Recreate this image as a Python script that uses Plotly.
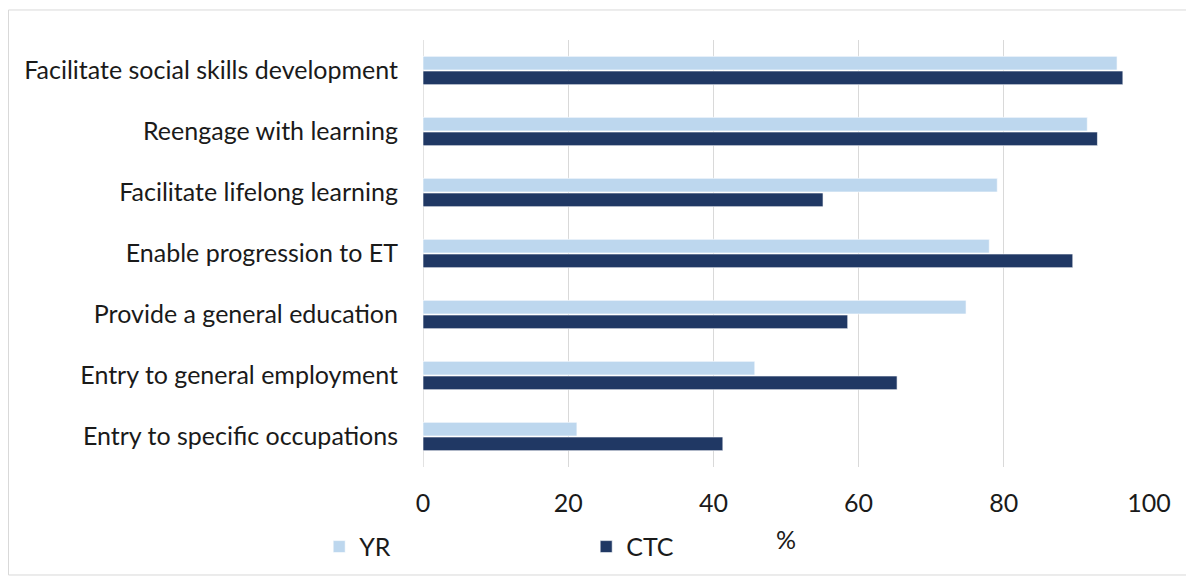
import plotly.graph_objects as go

categories = [
    "Facilitate social skills development",
    "Reengage with learning",
    "Facilitate lifelong learning",
    "Enable progression to ET",
    "Provide a general education",
    "Entry to general employment",
    "Entry to specific occupations",
]
yr_values = [95.6, 91.5, 79.1, 78.0, 74.8, 45.7, 21.2]
ctc_values = [96.4, 92.9, 55.1, 89.5, 58.5, 65.3, 41.3]
x_ticks = [0, 20, 40, 60, 80, 100]

YR_COLOR = "#bdd7ee"
CTC_COLOR = "#203864"
FONT = "Lato"
FSIZE = 25

fig = go.Figure()
fig.add_trace(go.Bar(
    y=categories, x=yr_values, name="YR", orientation="h",
    marker=dict(color=YR_COLOR, line=dict(color="white", width=0.6)),
))
fig.add_trace(go.Bar(
    y=categories, x=ctc_values, name="CTC", orientation="h",
    marker=dict(color=CTC_COLOR, line=dict(color="white", width=0.6)),
))

fig.update_layout(
    width=1194, height=579,
    margin=dict(l=415, r=53, t=32, b=120),
    paper_bgcolor="white", plot_bgcolor="white",
    barmode="group", bargap=0.52, bargroupgap=0.07,
    font=dict(family=FONT, size=FSIZE, color="#1a1a1a"),
    showlegend=True,
    legend=dict(
        orientation="h", x=-0.143, y=-0.187, xanchor="left", yanchor="middle",
        entrywidth=222, entrywidthmode="pixels", bgcolor="rgba(0,0,0,0)",
        font=dict(family=FONT, size=FSIZE, color="#1a1a1a"),
        traceorder="normal",
    ),
    shapes=[dict(type="rect", xref="paper", yref="paper",
                 x0=-0.5709, x1=1.0565, y0=-0.2529, y1=1.0703,
                 line=dict(color="#d9d9d9", width=1), fillcolor="rgba(0,0,0,0)",
                 layer="below")],
)
fig.update_xaxes(
    range=[0, 100], tickvals=x_ticks, ticktext=[str(v) for v in x_ticks],
    showgrid=True, gridcolor="#d9d9d9", gridwidth=1.3, automargin=False,
    zeroline=False, showline=False, ticks="", ticklabelstandoff=19,
    title=dict(text="%", standoff=15, font=dict(family=FONT, size=FSIZE)),
)
fig.update_yaxes(
    categoryorder="array", categoryarray=categories, autorange="reversed",
    showgrid=False, zeroline=False, showline=False, ticks="", automargin=False,
    ticklabelstandoff=24,
)
fig.add_shape(type="line", xref="x", yref="paper", x0=0, x1=0, y0=0, y1=1,
              line=dict(color="#d9d9d9", width=1.5), layer="below")

fig.write_html("out.html")
